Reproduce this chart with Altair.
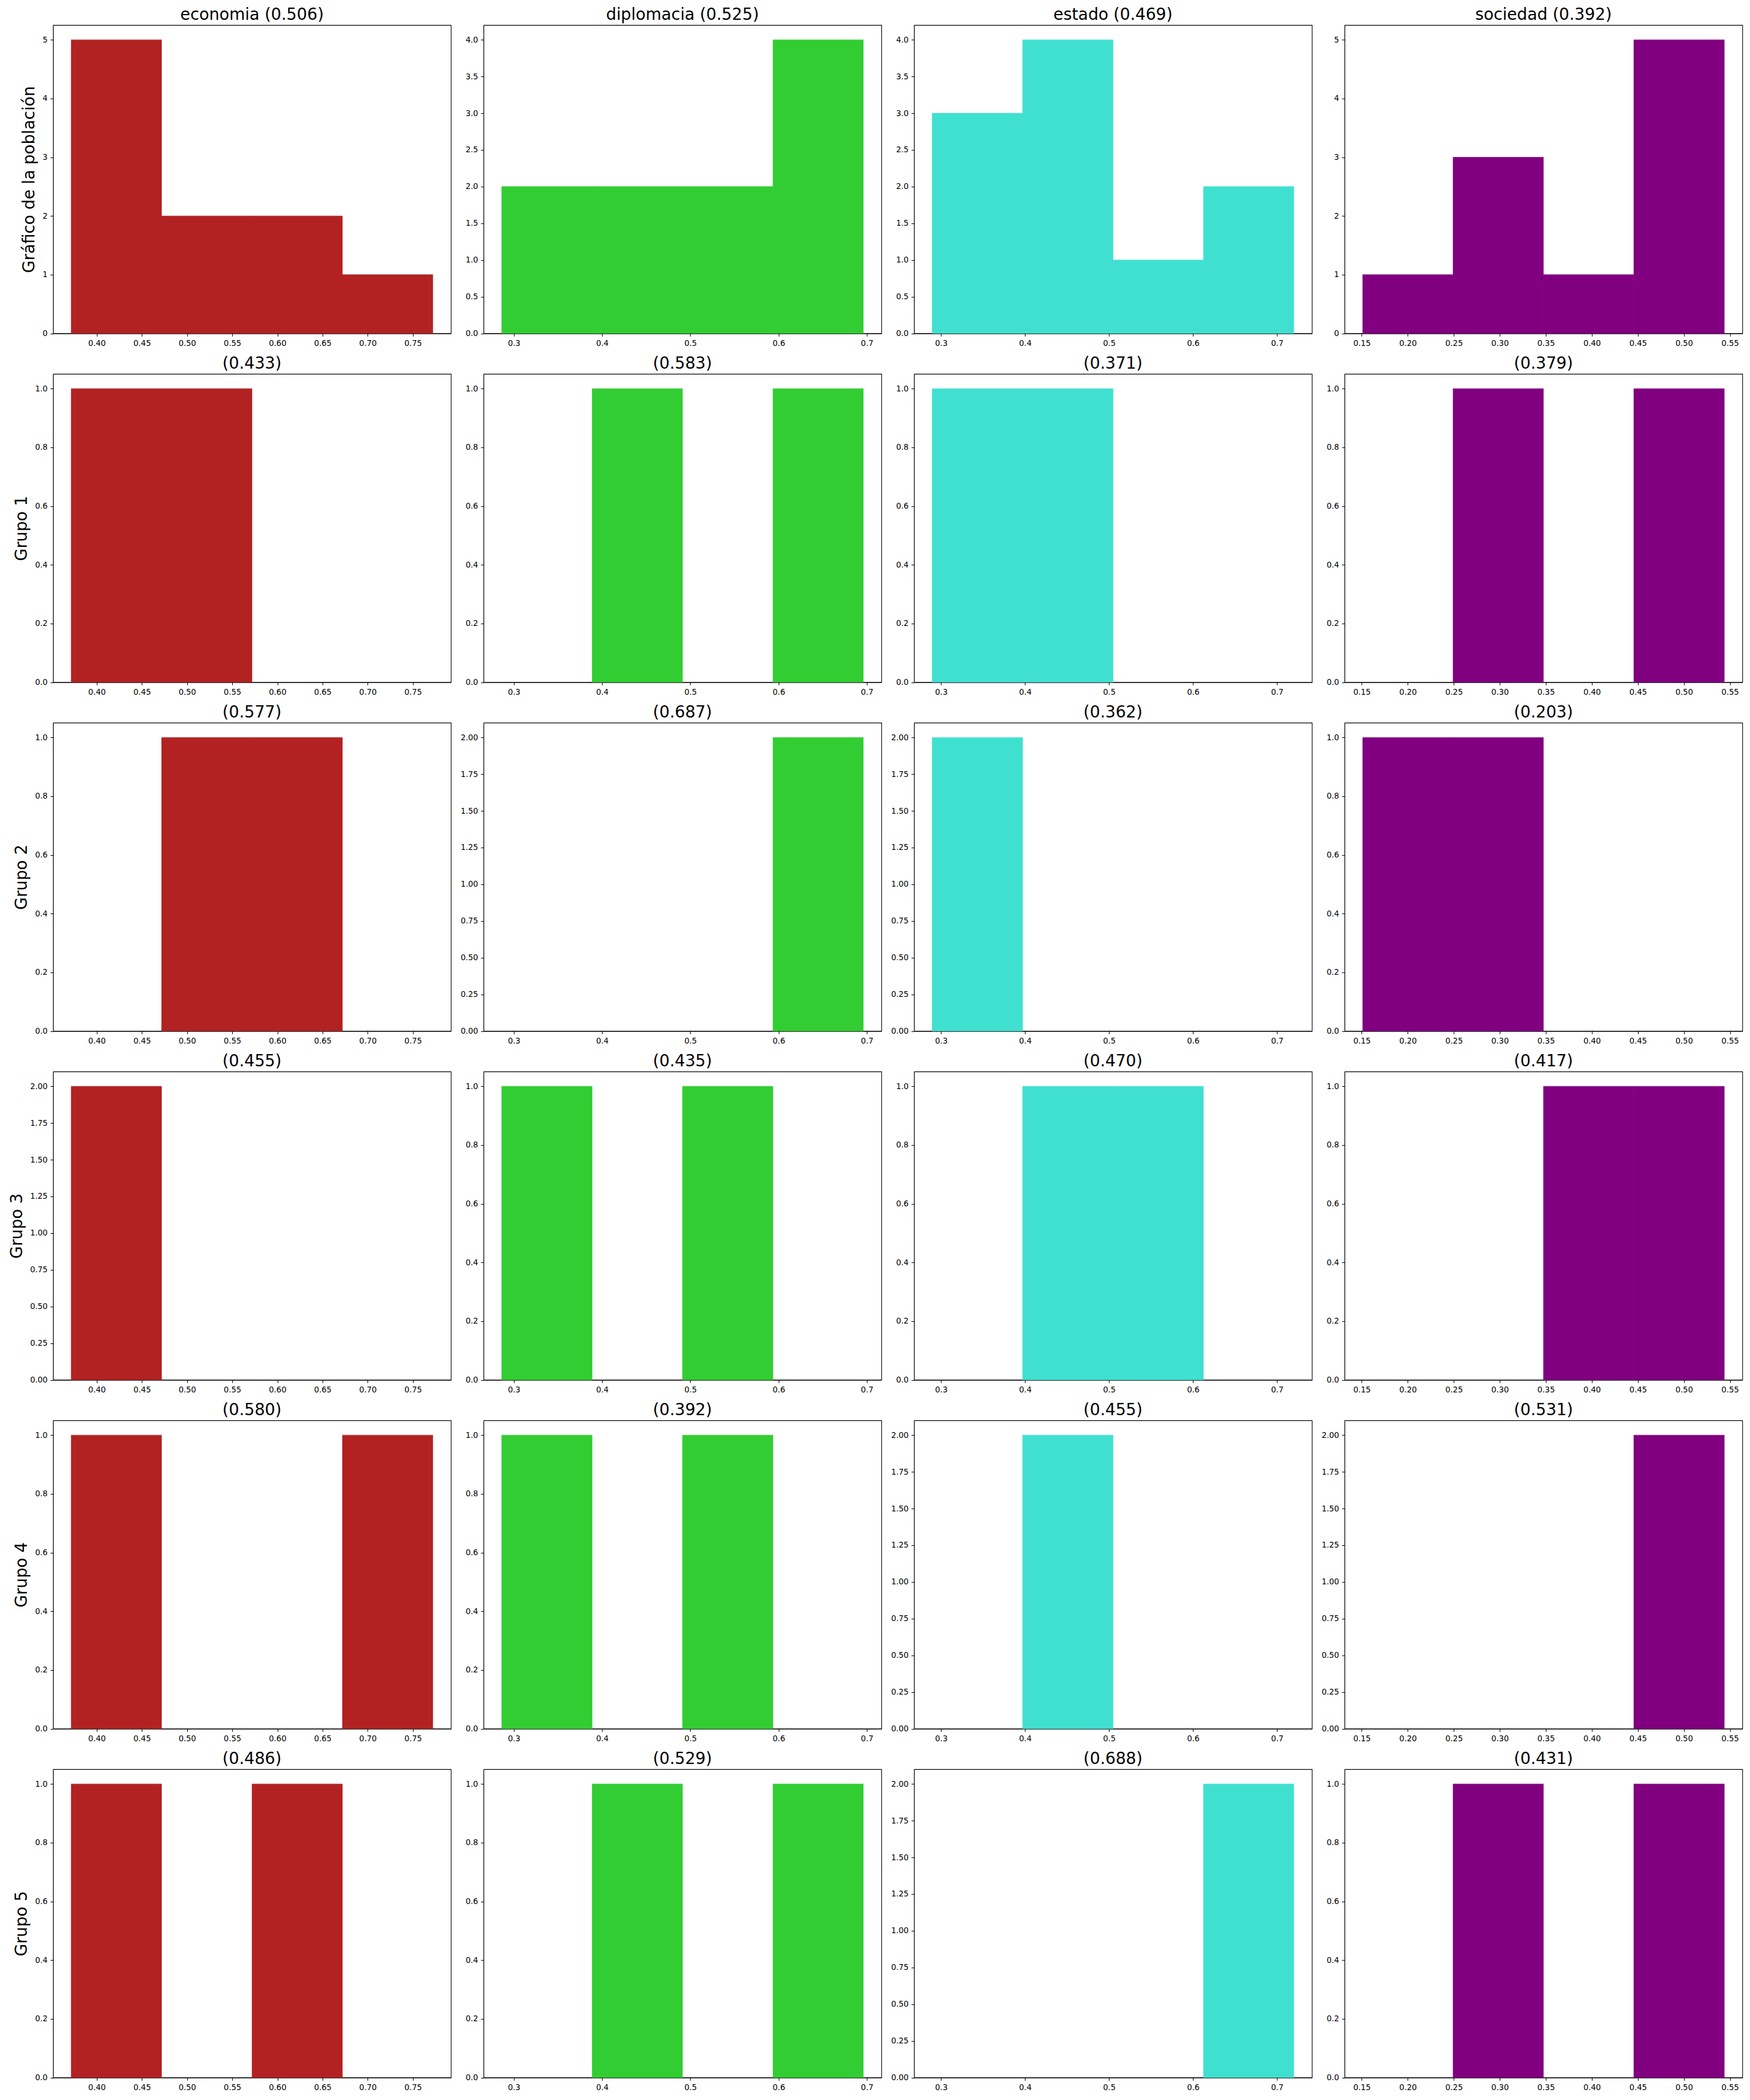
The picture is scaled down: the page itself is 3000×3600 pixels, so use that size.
import altair as alt
import pandas as pd

variables = ["economia", "diplomacia", "estado", "sociedad"]
colors = ["#b22222", "#32cd32", "#40e0d0", "#800080"]
row_labels = ["Gráfico de la población", "Grupo 1", "Grupo 2", "Grupo 3", "Grupo 4", "Grupo 5"]

# bin edges (4 bins per variable)
edges_economia = [0.3717, 0.4718, 0.5719, 0.6720, 0.7721]
edges_diplomacia = [0.2862, 0.3887, 0.4911, 0.5936, 0.6960]
edges_estado = [0.2894, 0.3971, 0.5048, 0.6124, 0.7200]
edges_sociedad = [0.1510, 0.2492, 0.3474, 0.4456, 0.5439]

# counts per row (population, Grupo 1..5)
counts_economia = [[5, 2, 2, 1], [1, 1, 0, 0], [0, 1, 1, 0], [2, 0, 0, 0], [1, 0, 0, 1], [1, 0, 1, 0]]
counts_diplomacia = [[2, 2, 2, 4], [0, 1, 0, 1], [0, 0, 0, 2], [1, 0, 1, 0], [1, 0, 1, 0], [0, 1, 0, 1]]
counts_estado = [[3, 4, 1, 2], [1, 1, 0, 0], [2, 0, 0, 0], [0, 1, 1, 0], [0, 2, 0, 0], [0, 0, 0, 2]]
counts_sociedad = [[1, 3, 1, 5], [0, 1, 0, 1], [1, 1, 0, 0], [0, 0, 1, 1], [0, 0, 0, 2], [0, 1, 0, 1]]

# scores shown in panel titles
scores_economia = [0.506, 0.433, 0.577, 0.455, 0.580, 0.486]
scores_diplomacia = [0.525, 0.583, 0.687, 0.435, 0.392, 0.529]
scores_estado = [0.469, 0.371, 0.362, 0.470, 0.455, 0.688]
scores_sociedad = [0.392, 0.379, 0.203, 0.417, 0.531, 0.431]

# x tick labels
xticks_economia = [0.40, 0.45, 0.50, 0.55, 0.60, 0.65, 0.70, 0.75]
xticks_diplomacia = [0.3, 0.4, 0.5, 0.6, 0.7]
xticks_estado = [0.3, 0.4, 0.5, 0.6, 0.7]
xticks_sociedad = [0.15, 0.20, 0.25, 0.30, 0.35, 0.40, 0.45, 0.50, 0.55]

# y tick labels by panel maximum count
yticks_by_max = {
    5: ([0, 1, 2, 3, 4, 5], "d"),
    4: ([0, 0.5, 1.0, 1.5, 2.0, 2.5, 3.0, 3.5, 4.0], ".1f"),
    2: ([0, 0.25, 0.5, 0.75, 1.0, 1.25, 1.5, 1.75, 2.0], ".2f"),
    1: ([0, 0.2, 0.4, 0.6, 0.8, 1.0], ".1f"),
}

edges = {"economia": edges_economia, "diplomacia": edges_diplomacia,
         "estado": edges_estado, "sociedad": edges_sociedad}
counts = {"economia": counts_economia, "diplomacia": counts_diplomacia,
          "estado": counts_estado, "sociedad": counts_sociedad}
scores = {"economia": scores_economia, "diplomacia": scores_diplomacia,
          "estado": scores_estado, "sociedad": scores_sociedad}
xticks = {"economia": (xticks_economia, ".2f"), "diplomacia": (xticks_diplomacia, ".1f"),
          "estado": (xticks_estado, ".1f"), "sociedad": (xticks_sociedad, ".2f")}

FONT = "DejaVu Sans"
W, H = 682, 528.5

panels = []
for r in range(6):
    for c, var in enumerate(variables):
        e = edges[var]
        cnt = counts[var][r]
        df = pd.DataFrame({"x0": e[:-1], "x1": e[1:], "n": cnt})
        df = df[df["n"] > 0]
        rng = e[-1] - e[0]
        lo, hi = e[0] - 0.05 * rng, e[-1] + 0.05 * rng
        m = max(cnt)
        yt, yf = yticks_by_max[m]
        xt, xf = xticks[var]
        ttl = (f"{var} ({scores[var][r]:.3f})" if r == 0 else f"({scores[var][r]:.3f})")
        yaxis = alt.Axis(values=yt, format=yf, title=row_labels[r]) if c == 0 else \
            alt.Axis(values=yt, format=yf, title=None)
        ch = alt.Chart(df).mark_rect(color=colors[c], stroke=colors[c], strokeWidth=0.6).encode(
            x=alt.X("x0:Q", scale=alt.Scale(domain=[lo, hi], nice=False, zero=False),
                    axis=alt.Axis(values=xt, format=xf, title=None)),
            x2="x1:Q",
            y=alt.Y("n:Q", scale=alt.Scale(domain=[0, 1.05 * m], nice=False), axis=yaxis),
            y2=alt.datum(0),
        ).properties(
            width=W, height=H,
            title=alt.TitleParams(ttl, fontSize=27.8, font=FONT, fontWeight="normal",
                                  color="black", baseline="alphabetic", offset=-19,
                                  frame="group"),
        )
        panels.append(ch)

chart = alt.concat(*panels, columns=4, spacing={"row": 69, "column": 56}, bounds="flush").properties(
    padding={"left": 14, "top": 11, "right": 5, "bottom": 5},
    background="white",
).configure_view(
    stroke="black", strokeWidth=1.1
).configure_axis(
    grid=False, domain=True, domainColor="black", domainWidth=1.1,
    tickColor="black", tickSize=4.9, tickWidth=1.1,
    labelColor="black", labelFont=FONT, labelFontSize=13.5, labelPadding=4.9,
    titleFont=FONT, titleFontSize=27.8, titleFontWeight="normal", titleColor="black",
    titlePadding=8, zindex=1,
)

chart.save("out.html", embed_options={"renderer": "svg", "actions": False})
